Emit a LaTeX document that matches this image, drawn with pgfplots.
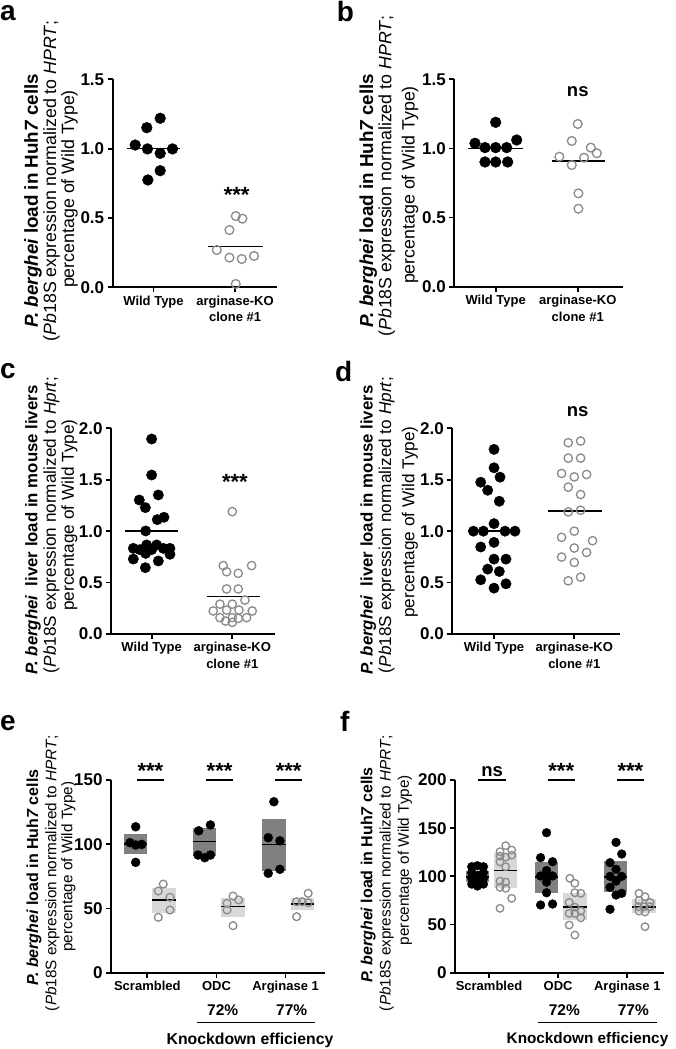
\documentclass[border=0pt]{standalone}
\usepackage{fontspec}
\setmainfont{Liberation Sans}
\usepackage{pgfplots}
\pgfplotsset{compat=1.18}
\definecolor{opengray}{RGB}{138,138,138}
\definecolor{boxdark}{RGB}{128,128,128}
\definecolor{boxlight}{RGB}{216,216,216}
\newcommand{\FS}[1]{\fontsize{#1}{#1}\selectfont}
\pgfplotsset{
  panel/.style={
    scale only axis, anchor=south west, clip=false,
    axis lines=left, axis line style={-, line width=1.8pt},
    tick style={black, line width=1.8pt},
    major tick length=5pt, tick align=outside,
    /pgf/number format/assume math mode=true,
    yticklabel style={font=\FS{17}\bfseries},
    xticklabel style={font=\fontsize{13}{16.5}\selectfont\bfseries, align=center},
  },
  dec1/.style={
    /pgf/number format/fixed,
    /pgf/number format/fixed zerofill,
    /pgf/number format/precision=1,
  },
  filled/.style={only marks, mark=*, mark size=#1,
    mark options={fill=black, draw=black, line width=0.4pt}},
  hollow/.style={only marks, mark=o, mark size=#1,
    mark options={draw=opengray, line width=1.3pt}},
  meanline/.style={black, line width=1.6pt, no marks},
  sigline/.style={black, line width=1.5pt, no marks},
  darkbox/.style={fill=boxdark, draw=none, no marks},
  lightbox/.style={fill=boxlight, draw=none, no marks},
}
\begin{document}
\begin{tikzpicture}
\path[use as bounding box] (0pt,0pt) rectangle (675pt,-1049pt);

% ---------- panel letters ----------
\begin{scope}[every node/.style={font=\FS{28}\bfseries, anchor=base west, inner sep=0pt}]
\node at (0pt,-21pt) {a};
\node at (336.7pt,-22pt) {b};
\node at (0pt,-378.3pt) {c};
\node at (335pt,-381.7pt) {d};
\node at (0pt,-730pt) {e};
\node at (340pt,-731.7pt) {f};
\end{scope}

% ---------- y labels ----------
\begin{scope}[every node/.style={rotate=90, inner sep=0pt}]
% a
\node[font=\FS{18.8}\bfseries] at (33pt,-200.8pt) {\itshape P. berghei\upshape{} load in Huh\itshape 7\upshape{} cells};
\node[font=\FS{17.8}] at (51.5pt,-180.8pt) {(\textit{Pb}18S expression normalized to \textit{HPRT};};
\node[font=\FS{17.8}] at (69.5pt,-189pt) {percentage of Wild Type)};
% b
\node[font=\FS{18.8}\bfseries] at (368.3pt,-200.5pt) {\itshape P. berghei\upshape{} load in Huh\itshape 7\upshape{} cells};
\node[font=\FS{17.8}] at (386.7pt,-176pt) {(\textit{Pb}18S expression normalized to \textit{HPRT};};
\node[font=\FS{17.8}] at (410pt,-185pt) {percentage of Wild Type)};
% c
\node[font=\FS{16.8}\bfseries] at (33pt,-530pt) {\itshape P. berghei\upshape\ \ liver load in mouse livers};
\node[font=\FS{17.2}] at (51.5pt,-525pt) {(\textit{Pb}18S expression normalized to \textit{Hprt};};
\node[font=\FS{17.2}] at (69.5pt,-515pt) {percentage of Wild Type)};
% d
\node[font=\FS{16.8}\bfseries] at (368.3pt,-530pt) {\itshape P. berghei\upshape\ \ liver load in mouse livers};
\node[font=\FS{17.2}] at (386.7pt,-525pt) {(\textit{Pb}18S expression normalized to \textit{Hprt};};
\node[font=\FS{17.2}] at (410pt,-522pt) {percentage of Wild Type)};
% e
\node[font=\FS{16}\bfseries] at (34pt,-877.5pt) {\itshape P. berghei\upshape{} load in Huh\itshape 7\upshape{} cells};
\node[font=\FS{15.3}] at (52.5pt,-873pt) {(\textit{Pb}18S expression normalized to \textit{HPRT};};
\node[font=\FS{15.3}] at (68.3pt,-866.7pt) {percentage of Wild Type)};
% f
\node[font=\FS{16}\bfseries] at (368.3pt,-875pt) {\itshape P. berghei\upshape{} load in Huh\itshape 7\upshape{} cells};
\node[font=\FS{15.3}] at (386.7pt,-873pt) {(\textit{Pb}18S expression normalized to \textit{HPRT};};
\node[font=\FS{15.3}] at (405pt,-860pt) {percentage of Wild Type)};
\end{scope}

% ---------- panel a ----------
\begin{axis}[panel, dec1, at={(112.7pt,-287.3pt)}, width=164pt, height=208pt,
  xmin=0.5, xmax=2.51, ymin=0, ymax=1.5, ytick={0,0.5,1,1.5},
  xtick={1,2}, xticklabels={Wild Type, {arginase-KO\\clone \#1}}]
\addplot[meanline] coordinates {(0.67,1.0)(1.33,1.0)};
\addplot[meanline] coordinates {(1.67,0.295)(2.34,0.295)};
\addplot[filled=5.4pt] coordinates {(0.776,1.026)(0.918,1.151)(1.082,1.219)(0.926,0.998)(1.082,0.966)(1.233,0.998)(1.082,0.841)(0.931,0.774)};
\addplot[hollow=4.4pt] coordinates {(2.008,0.514)(2.09,0.495)(1.931,0.413)(1.776,0.269)(1.931,0.214)(2.082,0.204)(2.233,0.226)(2.008,0.024)};
\node[font=\FS{22}\bfseries] at (axis cs:2.02,0.665) {***};
\end{axis}

% ---------- panel b ----------
\begin{axis}[panel, dec1, at={(454.3pt,-286.7pt)}, width=169pt, height=207.4pt,
  xmin=0.496, xmax=2.555, ymin=0, ymax=1.5, ytick={0,0.5,1,1.5},
  xtick={1,2}, xticklabels={Wild Type, {arginase-KO\\clone \#1}}]
\addplot[meanline] coordinates {(0.667,1.0)(1.337,1.0)};
\addplot[meanline] coordinates {(1.683,0.91)(2.333,0.91)};
\addplot[filled=5.4pt] coordinates {(1,1.189)(0.748,1.037)(1.256,1.061)(0.87,1.006)(1,1.006)(1.134,1.006)(0.87,0.902)(1,0.902)(1.146,0.902)};
\addplot[hollow=4.4pt] coordinates {(2,1.177)(1.927,1.054)(2.159,1.006)(1.776,0.94)(2.077,0.933)(2.232,0.965)(1.927,0.880)(2.008,0.675)(2.008,0.564)};
\node[font=\FS{18.5}\bfseries] at (axis cs:2,1.408) {ns};
\end{axis}

% ---------- panel c ----------
\begin{axis}[panel, dec1, at={(111pt,-634pt)}, width=164pt, height=205.7pt,
  xmin=0.496, xmax=2.53, ymin=0, ymax=2, ytick={0,0.5,1,1.5,2},
  xtick={1,2}, xticklabels={Wild Type, {arginase-KO\\clone \#1}}]
\addplot[meanline] coordinates {(0.67,1.0)(1.33,1.0)};
\addplot[meanline] coordinates {(1.682,0.364)(2.343,0.364)};
\addplot[filled=5.2pt] coordinates {(1,1.896)(1,1.546)(1.083,1.352)(0.847,1.303)(0.922,1.229)(1.07,1.112)(1.153,1.135)(0.926,1.002)
  (0.773,0.833)(0.855,0.82)(0.938,0.866)(1.062,0.866)(1.145,0.833)(1.227,0.833)(0.773,0.729)(0.926,0.784)(1.083,0.71)(1.227,0.775)(0.922,0.645)(1,0.82)};
\addplot[hollow=4.2pt] coordinates {(2,1.19)(1.888,0.665)(2.24,0.665)(1.93,0.606)(2.074,0.59)(1.93,0.438)(2.074,0.438)(2.157,0.33)(1.847,0.29)(2,0.29)
  (1.93,0.233)(2.083,0.233)(1.764,0.224)(2.248,0.224)(1.847,0.159)(2,0.159)(1.917,0.126)(2.074,0.152)(2.178,0.159)(2,0.113)};
\node[font=\FS{22}\bfseries] at (axis cs:2.033,1.481) {***};
\end{axis}

% ---------- panel d ----------
\begin{axis}[panel, dec1, at={(452.3pt,-634pt)}, width=167.7pt, height=205.7pt,
  xmin=0.48, xmax=2.57, ymin=0, ymax=2, ytick={0,0.5,1,1.5,2},
  xtick={1,2}, xticklabels={Wild Type, {arginase-KO\\clone \#1}}]
\addplot[meanline] coordinates {(0.68,1.003)(1.30,1.003)};
\addplot[meanline] coordinates {(1.676,1.198)(2.34,1.198)};
\addplot[filled=5.2pt] coordinates {(1,1.795)(1,1.616)(0.834,1.476)(1.075,1.525)(0.921,1.398)(1.066,1.291)(1,1.073)(0.743,1.0)(0.867,1.0)(1.137,1.0)(1.261,1.0)
  (1,0.891)(0.834,0.846)(1,0.728)(1.149,0.728)(0.921,0.631)(1.066,0.608)(0.834,0.527)(1.149,0.488)(1,0.446)};
\addplot[hollow=4.2pt] coordinates {(1.925,1.86)(2.079,1.876)(1.925,1.71)(2.079,1.71)(1.842,1.561)(2,1.528)(2.154,1.551)(1.925,1.428)(2.079,1.356)(1.925,1.187)
  (2.079,1.203)(2,1.0)(1.842,0.94)(2.228,0.907)(2,0.836)(2.154,0.793)(1.842,0.748)(2,0.696)(1.925,0.517)(2.079,0.553)};
\node[font=\FS{18.5}\bfseries] at (axis cs:2.041,2.166) {ns};
\end{axis}

% ---------- panel e ----------
\begin{axis}[panel, at={(111pt,-972.7pt)}, width=214pt, height=192.7pt,
  xmin=0.475, xmax=3.57, ymin=0, ymax=150, ytick={0,50,100,150},
  xtick={1,2,3}, xticklabels={Scrambled, ODC, Arginase 1}]
\addplot[darkbox] coordinates {(0.663,92.2)(1.0,92.2)(1.0,107.7)(0.663,107.7)} -- cycle;
\addplot[lightbox] coordinates {(1.072,46.2)(1.41,46.2)(1.41,65.7)(1.072,65.7)} -- cycle;
\addplot[darkbox] coordinates {(1.663,90.8)(2.0,90.8)(2.0,112.9)(1.663,112.9)} -- cycle;
\addplot[lightbox] coordinates {(2.072,43.1)(2.41,43.1)(2.41,57.9)(2.072,57.9)} -- cycle;
\addplot[darkbox] coordinates {(2.663,79.2)(3.0,79.2)(3.0,119.4)(2.663,119.4)} -- cycle;
\addplot[lightbox] coordinates {(3.072,48.8)(3.41,48.8)(3.41,57.9)(3.072,57.9)} -- cycle;
\addplot[meanline] coordinates {(0.663,100.2)(1.0,100.2)};
\addplot[meanline] coordinates {(1.072,56.6)(1.41,56.6)};
\addplot[meanline] coordinates {(1.663,102)(2.0,102)};
\addplot[meanline] coordinates {(2.072,51.4)(2.41,51.4)};
\addplot[meanline] coordinates {(2.663,99.9)(3.0,99.9)};
\addplot[meanline] coordinates {(3.072,53.5)(3.41,53.5)};
\addplot[filled=4.5pt] coordinates {(0.832,113.6)(0.75,101.2)(0.832,99.4)(0.919,99.9)(0.832,85.9)
  (1.744,110.5)(1.913,115.0)(1.734,91.6)(1.831,89.5)(1.913,91.6)
  (2.831,133.1)(2.749,105.1)(2.918,102.7)(2.749,77.4)(2.918,80.5)};
\addplot[hollow=3.9pt] coordinates {(1.231,69.0)(1.159,63.6)(1.328,58.7)(1.328,48.8)(1.159,43.1)
  (2.24,59.7)(2.153,54.0)(2.322,56.6)(2.153,48.8)(2.24,36.6)
  (3.327,61.8)(3.159,55.3)(3.24,55.3)(3.327,54.5)(3.159,43.6)};
\addplot[sigline] coordinates {(0.846,150)(1.241,150)};
\addplot[sigline] coordinates {(1.846,150)(2.241,150)};
\addplot[sigline] coordinates {(2.846,150)(3.241,150)};
\node[font=\FS{22}\bfseries] at (axis cs:1.045,157.4) {***};
\node[font=\FS{22}\bfseries] at (axis cs:2.045,157.4) {***};
\node[font=\FS{22}\bfseries] at (axis cs:3.045,157.4) {***};
\end{axis}

% ---------- panel f ----------
\begin{axis}[panel, at={(455pt,-972.7pt)}, width=209.3pt, height=192.7pt,
  xmin=0.508, xmax=3.535, ymin=0, ymax=200, ytick={0,50,100,150,200},
  xtick={1,2,3}, xticklabels={Scrambled, ODC, Arginase 1}]
\addplot[darkbox] coordinates {(0.663,94.5)(1.0,94.5)(1.0,105.5)(0.663,105.5)} -- cycle;
\addplot[lightbox] coordinates {(1.072,87.6)(1.41,87.6)(1.41,124.6)(1.072,124.6)} -- cycle;
\addplot[darkbox] coordinates {(1.663,83.0)(2.0,83.0)(2.0,115.2)(1.663,115.2)} -- cycle;
\addplot[lightbox] coordinates {(2.072,54.7)(2.41,54.7)(2.41,82.4)(2.072,82.4)} -- cycle;
\addplot[darkbox] coordinates {(2.663,83.4)(3.0,83.4)(3.0,115.9)(2.663,115.9)} -- cycle;
\addplot[lightbox] coordinates {(3.072,62.3)(3.41,62.3)(3.41,76.2)(3.072,76.2)} -- cycle;
\addplot[meanline] coordinates {(0.663,99.6)(1.0,99.6)};
\addplot[meanline] coordinates {(1.072,105.9)(1.41,105.9)};
\addplot[meanline] coordinates {(1.663,99.6)(2.0,99.6)};
\addplot[meanline] coordinates {(2.072,68.5)(2.41,68.5)};
\addplot[meanline] coordinates {(2.663,99.6)(3.0,99.6)};
\addplot[meanline] coordinates {(3.072,68.5)(3.41,68.5)};
\addplot[filled=4.4pt] coordinates {(0.75,110)(0.832,111)(0.919,110)(0.75,104)(0.919,104)(0.832,101)(0.75,98)(0.919,98)(0.832,96)(0.75,92)(0.832,90)(0.919,92)
  (1.832,145.3)(1.746,119.4)(1.919,115.2)(1.746,100.4)(1.832,100.4)(1.919,100.4)(1.832,106)(1.832,94)(1.832,83)(1.746,70.3)(1.919,71.3)
  (2.837,135.3)(2.919,123.2)(2.75,114.2)(2.837,107.3)(2.75,100)(2.919,100)(2.837,95)(2.75,88.6)(2.837,80.6)(2.919,82.4)(2.75,65.8)};
\addplot[hollow=3.8pt] coordinates {(1.241,131.8)(1.159,125.6)(1.328,127.3)(1.159,121)(1.241,120)(1.328,122)(1.159,115)(1.241,110)(1.159,95)(1.241,94)(1.159,88.6)(1.241,87.6)(1.328,77.2)(1.159,66.8)
  (2.169,98)(2.241,92.8)(2.241,83)(2.328,82.4)(2.159,73)(2.241,68)(2.328,64)(2.159,61.6)(2.241,61.6)(2.328,57)(2.159,49.5)(2.241,39.1)
  (3.169,82.4)(3.256,78.9)(3.169,75)(3.328,73)(3.159,68.5)(3.241,68.5)(3.328,68.5)(3.169,64)(3.256,63)(3.256,47.8)};
\addplot[sigline] coordinates {(0.846,200)(1.241,200)};
\addplot[sigline] coordinates {(1.846,200)(2.241,200)};
\addplot[sigline] coordinates {(2.846,200)(3.241,200)};
\node[font=\FS{18.5}\bfseries] at (axis cs:1.045,208.3) {ns};
\node[font=\FS{22}\bfseries] at (axis cs:2.045,209.3) {***};
\node[font=\FS{22}\bfseries] at (axis cs:3.045,209.3) {***};
\end{axis}

% ---------- knockdown annotations ----------
\begin{scope}[every node/.style={inner sep=0pt}]
\node[font=\FS{15.5}\bfseries] at (222.7pt,-1010pt) {72\%};
\node[font=\FS{15.5}\bfseries] at (291.7pt,-1010pt) {77\%};
\draw[line width=1.5pt] (196.7pt,-1022.7pt) -- (315pt,-1022.7pt);
\node[font=\FS{15.8}\bfseries] at (250pt,-1040pt) {Knockdown efficiency};
\node[font=\FS{15.5}\bfseries] at (564.3pt,-1010pt) {72\%};
\node[font=\FS{15.5}\bfseries] at (633.3pt,-1010pt) {77\%};
\draw[line width=1.5pt] (538.3pt,-1022.7pt) -- (656.7pt,-1022.7pt);
\node[font=\FS{15.3}\bfseries] at (587.5pt,-1040pt) {Knockdown efficiency};
\end{scope}
\end{tikzpicture}
\end{document}
